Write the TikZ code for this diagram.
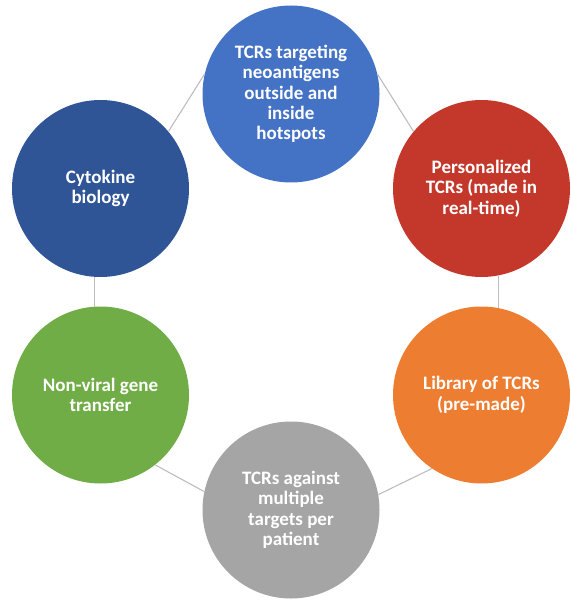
\documentclass[tikz,border=0pt]{standalone}
\usepackage{fontspec}
\setmainfont{Carlito}
\definecolor{cblue}{HTML}{4472C4}
\definecolor{cdblue}{HTML}{2F5597}
\definecolor{cred}{HTML}{C4382C}
\definecolor{corange}{HTML}{ED7D31}
\definecolor{cgrey}{HTML}{A5A5A5}
\definecolor{cgreen}{HTML}{70AD47}
\definecolor{cline}{HTML}{BDBDBD}
\begin{document}
\begin{tikzpicture}[x=1pt,y=-1pt,
  bub/.style={circle,minimum size=177pt,inner sep=0pt,text=white,align=center,
    font=\fontsize{19}{20.4}\selectfont\bfseries},
  link/.style={draw=cline,line width=1.1pt}]
\useasboundingbox (0,0) rectangle (570,601);
\node[bub,fill=cblue]   (top) at (291,94)    {TCRs targeting\\neoantigens\\outside and\\inside\\hotspots};
\node[bub,fill=cred]    (tr)  at (481.5,188.5) {Personalized\\TCRs (made in\\real-time)};
\node[bub,fill=corange] (br)  at (481.5,395) {Library of TCRs\\(pre-made)};
\node[bub,fill=cgrey]   (bot) at (291,510)   {TCRs against\\multiple\\targets per\\patient};
\node[bub,fill=cgreen]  (bl)  at (100.5,395) {Non-viral gene\\transfer};
\node[bub,fill=cdblue]  (tl)  at (100.5,188.5) {Cytokine\\biology};
\draw[link] (top.167) -- (tl.40);
\draw[link] (top.13) -- (tr.140);
\draw[link] (tr.281) -- (br.79);
\draw[link] (br.236) -- (bot.10);
\draw[link] (bot.168) -- (bl.-52);
\draw[link] (bl.94) -- (tl.266);
\end{tikzpicture}
\end{document}
